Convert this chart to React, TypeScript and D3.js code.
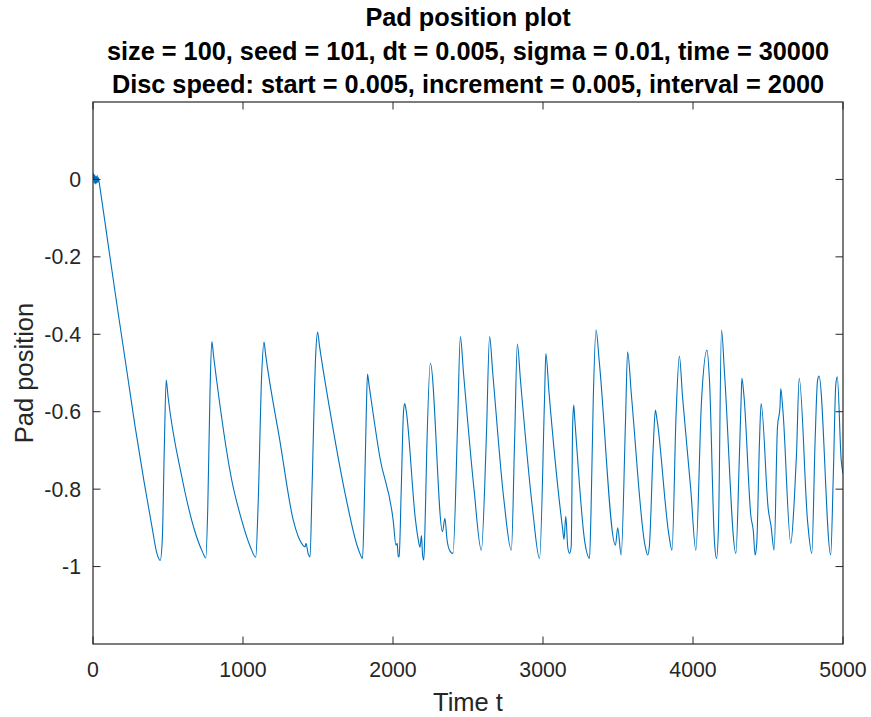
import React from "react";
import * as d3 from "d3";

const T: number[] = [
  0, 4, 8, 12, 16, 20, 24, 28, 32, 36, 40,
  48, 100, 160, 220, 281, 340, 393, 426, 448,
  462, 475, 488,
  500, 592, 680, 730, 752,
  765, 780, 792,
  805, 925, 991, 1050, 1085,
  1100, 1125, 1140,
  1150, 1247, 1335, 1400, 1413, 1420, 1435, 1447,
  1460, 1485, 1497,
  1510, 1579, 1690, 1760, 1779, 1797,
  1808, 1822, 1830,
  1840, 1912, 2001, 2020, 2028, 2035, 2041,
  2055, 2070, 2078, 2085,
  2150, 2168, 2180, 2190, 2197, 2205,
  2212, 2225, 2249,
  2330, 2346, 2360, 2380, 2400,
  2430, 2449,
  2470, 2540, 2589,
  2622, 2644,
  2665, 2740, 2789,
  2811, 2829,
  2850, 2930, 2977,
  3010, 3019,
  3040, 3130, 3140, 3152, 3165, 3177, 3188,
  3198, 3205, 3212,
  3280, 3310,
  3320, 3335, 3354,
  3375, 3483, 3498, 3521,
  3550, 3564,
  3590, 3680, 3698, 3709,
  3735, 3749,
  3760, 3840, 3860,
  3887, 3909,
  3930, 3985, 4019,
  4057, 4093,
  4110, 4143, 4157, 4170,
  4190,
  4210, 4286,
  4308, 4320, 4326,
  4340, 4386, 4402, 4414, 4425,
  4443, 4454,
  4502, 4520, 4541,
  4563, 4580, 4585,
  4600, 4652,
  4675, 4690, 4708,
  4764, 4792,
  4814, 4830, 4840,
  4918,
  4935, 4952, 4962,
  4988, 5000,
];

const V: number[] = [
  0.0, 0.015, -0.01, 0.012, -0.012, 0.008, -0.01, 0.01, -0.008, 0.005, -0.005,
  -0.025, -0.165, -0.325, -0.48, -0.639, -0.78, -0.897, -0.966, -0.984,
  -0.93, -0.7, -0.518,
  -0.56, -0.768, -0.91, -0.962, -0.978,
  -0.85, -0.55, -0.419,
  -0.46, -0.777, -0.88, -0.95, -0.976,
  -0.85, -0.5, -0.42,
  -0.45, -0.678, -0.88, -0.945, -0.949, -0.94, -0.968, -0.975,
  -0.8, -0.45, -0.394,
  -0.43, -0.596, -0.829, -0.945, -0.966, -0.979,
  -0.85, -0.6, -0.503,
  -0.53, -0.717, -0.88, -0.945, -0.94, -0.975, -0.973,
  -0.8, -0.6, -0.579, -0.59,
  -0.88, -0.93, -0.95, -0.92, -0.97, -0.983,
  -0.92, -0.7, -0.475,
  -0.91, -0.875, -0.93, -0.96, -0.966,
  -0.64, -0.406,
  -0.5, -0.8, -0.958,
  -0.67, -0.406,
  -0.5, -0.83, -0.958,
  -0.67, -0.425,
  -0.52, -0.85, -0.979,
  -0.57, -0.45,
  -0.55, -0.9, -0.93, -0.87, -0.95, -0.966, -0.948,
  -0.63, -0.583, -0.62,
  -0.94, -0.979,
  -0.86, -0.57, -0.389,
  -0.47, -0.945, -0.9, -0.97,
  -0.625, -0.445,
  -0.56, -0.945, -0.97, -0.948,
  -0.69, -0.596,
  -0.62, -0.92, -0.958,
  -0.61, -0.456,
  -0.56, -0.8, -0.958,
  -0.57, -0.441,
  -0.52, -0.935, -0.979, -0.895,
  -0.389,
  -0.5, -0.966,
  -0.73, -0.58, -0.514,
  -0.56, -0.87, -0.908, -0.97, -0.94,
  -0.68, -0.579,
  -0.853, -0.895, -0.958,
  -0.64, -0.588, -0.54,
  -0.6, -0.94,
  -0.83, -0.71, -0.514,
  -0.884, -0.966,
  -0.675, -0.52, -0.508,
  -0.97,
  -0.77, -0.53, -0.51,
  -0.725, -0.76,
];

const xTicks: number[] = [0, 1000, 2000, 3000, 4000, 5000];
const yTicks: number[] = [-1, -0.8, -0.6, -0.4, -0.2, 0];

const titleLines: string[] = [
  "Pad position plot",
  "size = 100, seed = 101, dt = 0.005, sigma = 0.01, time = 30000",
  "Disc speed: start = 0.005, increment = 0.005, interval = 2000",
];
const xLabel = "Time t";
const yLabel = "Pad position";

export default function App() {
  const W = 871;
  const H = 717;
  const left = 93;
  const right = 843;
  const top = 102;
  const bottom = 644;
  const x = d3.scaleLinear().domain([0, 5000]).range([left, right]);
  const y = d3.scaleLinear().domain([-1.2, 0.2]).range([bottom, top]);
  const pts: [number, number][] = T.map((t, i) => [t, V[i]]);
  const line = d3
    .line<[number, number]>()
    .x((d) => x(d[0]))
    .y((d) => y(d[1]))
    .curve(d3.curveMonotoneX);
  const axisColor = "#262626";
  const font = "'Liberation Sans', Arial, Helvetica, sans-serif";
  const tickLen = 7.5;
  const fmtY = (v: number) => (Math.abs(v) < 1e-9 ? "0" : String(+v.toFixed(1)));

  return (
    <svg
      width={W}
      height={H}
      style={{ position: "absolute", left: 0, top: 0, background: "#fff" }}
      fontFamily={font}
    >
      <rect x={0} y={0} width={W} height={H} fill="#fff" />
      <defs>
        <clipPath id="plotclip">
          <rect x={left} y={top} width={right - left} height={bottom - top} />
        </clipPath>
      </defs>
      <path
        d={line(pts) || ""}
        fill="none"
        stroke="#0072BD"
        strokeWidth={1.1}
        strokeLinejoin="round"
        clipPath="url(#plotclip)"
      />
      <rect
        x={left}
        y={top}
        width={right - left}
        height={bottom - top}
        fill="none"
        stroke={axisColor}
        strokeWidth={1.2}
      />
      {xTicks.map((t) => (
        <g key={"xt" + t}>
          <line x1={x(t)} x2={x(t)} y1={bottom} y2={bottom - tickLen} stroke={axisColor} strokeWidth={1} />
          <line x1={x(t)} x2={x(t)} y1={top} y2={top + tickLen} stroke={axisColor} strokeWidth={1} />
          <text x={x(t)} y={677} textAnchor="middle" fontSize={21.3} fill={axisColor}>
            {String(t)}
          </text>
        </g>
      ))}
      {yTicks.map((v) => (
        <g key={"yt" + v}>
          <line x1={left} x2={left + tickLen} y1={y(v)} y2={y(v)} stroke={axisColor} strokeWidth={1} />
          <line x1={right} x2={right - tickLen} y1={y(v)} y2={y(v)} stroke={axisColor} strokeWidth={1} />
          <text x={81} y={y(v) + 7.5} textAnchor="end" fontSize={21.3} fill={axisColor}>
            {fmtY(v)}
          </text>
        </g>
      ))}
      <text x={(left + right) / 2} y={711} textAnchor="middle" fontSize={25.5} fill={axisColor}>
        {xLabel}
      </text>
      <text
        transform={`translate(33,${(top + bottom) / 2}) rotate(-90)`}
        textAnchor="middle"
        fontSize={25.5}
        fill={axisColor}
      >
        {yLabel}
      </text>
      {titleLines.map((s, i) => (
        <text
          key={"tl" + i}
          x={(left + right) / 2}
          y={26 + i * 33.5}
          textAnchor="middle"
          fontSize={25.3}
          fontWeight="bold"
          fill="#000"
        >
          {s}
        </text>
      ))}
    </svg>
  );
}
